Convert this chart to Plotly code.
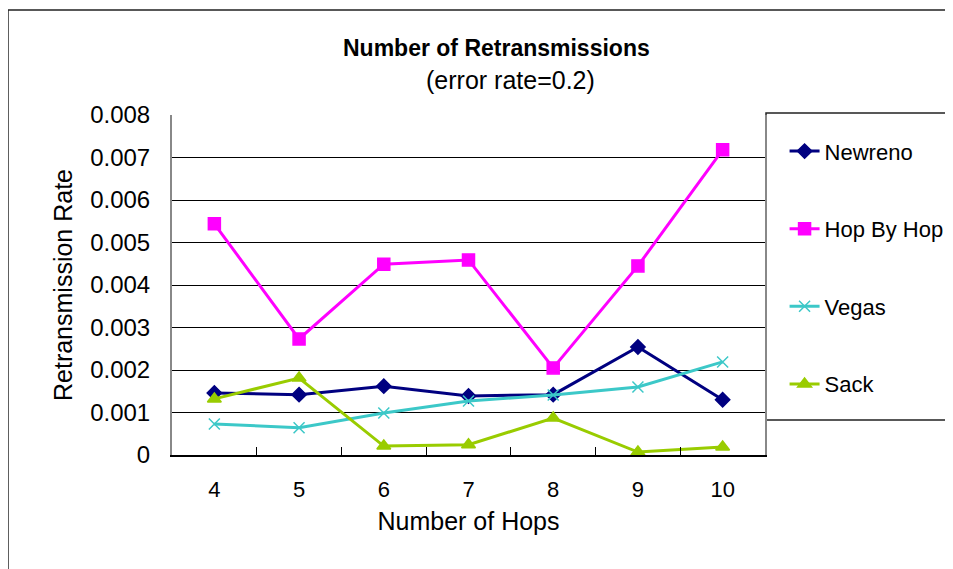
import plotly.graph_objects as go

hops = ["4", "5", "6", "7", "8", "9", "10"]
newreno = [0.00146, 0.00142, 0.00162, 0.00139, 0.00142, 0.00254, 0.00130]
hop_by_hop = [0.00544, 0.00273, 0.00449, 0.00459, 0.00205, 0.00445, 0.00718]
vegas = [0.00073, 0.00064, 0.00099, 0.00127, 0.00141, 0.00160, 0.00219]
sack = [0.00132, 0.00181, 0.00021, 0.00024, 0.00087, 0.00007, 0.00019]

y_ticks = [0, 0.001, 0.002, 0.003, 0.004, 0.005, 0.006, 0.007, 0.008]
y_labels = ["0", "0.001", "0.002", "0.003", "0.004", "0.005", "0.006", "0.007", "0.008"]

FONT = "Liberation Sans, Arial, sans-serif"

series = [
    ("Newreno", newreno, "#000080", "diamond", 11),
    ("Hop By Hop", hop_by_hop, "#FF00FF", "square", 12),
    ("Vegas", vegas, "#3CC8C8", "x-thin-open", 11),
    ("Sack", sack, "#99CC00", "triangle-up", 12),
]

fig = go.Figure()
for name, vals, color, sym, size in series:
    fig.add_trace(go.Scatter(
        x=hops, y=vals, name=name, mode="lines+markers",
        legendgroup=name,
        line=dict(color=color, width=3),
        marker=dict(symbol=sym, size=size, color=color,
                    line=dict(color=color, width=1.5)),
    ))

# outer frame and legend box, like the spreadsheet chart
fig.add_shape(type="rect", xref="paper", yref="paper",
              x0=-0.2766, x1=1.4, y0=-0.5, y1=1.3088,
              line=dict(color="#222", width=1.5), layer="below")
fig.add_shape(type="rect", xref="paper", yref="paper",
              x0=1.0017, x1=1.4, y0=0.103, y1=1.006,
              line=dict(color="#222", width=1.5), fillcolor="white", layer="below")

fig.add_annotation(text="<b>Number of Retransmissions</b>", xref="paper", yref="paper",
                   x=0.548, y=1.197, yanchor="middle", showarrow=False,
                   font=dict(size=23, family=FONT, color="black"))
fig.add_annotation(text="(error rate=0.2)", xref="paper", yref="paper",
                   x=0.57, y=1.103, yanchor="middle", showarrow=False,
                   font=dict(size=25, family=FONT, color="black"))

# page body has an 8px margin, so shift the margins to line the plot area up
fig.update_layout(
    width=953, height=569,
    margin=dict(l=164, r=196, t=107, b=122, autoexpand=False),
    paper_bgcolor="white", plot_bgcolor="white",
    font=dict(family=FONT, color="black"),
    showlegend=True,
    legend=dict(x=1.033, y=0.955, xanchor="left", yanchor="top",
                font=dict(size=22, family=FONT, color="black"),
                tracegroupgap=46, bgcolor="rgba(0,0,0,0)"),
)
fig.update_xaxes(
    type="category", range=[-0.5, 6.5],
    tickson="boundaries", ticks="inside", ticklen=8,
    tickcolor="black", showline=True, linecolor="black", linewidth=1.5,
    showgrid=False, mirror=False,
    tickfont=dict(size=22), ticklabelstandoff=14,
    title=dict(text="Number of Hops", font=dict(size=25), standoff=11),
)
fig.update_yaxes(
    range=[0, 0.008], tickvals=y_ticks, ticktext=y_labels,
    showgrid=True, gridcolor="black", gridwidth=1,
    showline=True, linecolor="#888", linewidth=2, mirror=True,
    tickfont=dict(size=24), ticks="", ticklabelstandoff=15,
    zeroline=False,
    title=dict(text="Retransmission Rate", font=dict(size=25), standoff=10),
)

fig.write_html("out.html")
